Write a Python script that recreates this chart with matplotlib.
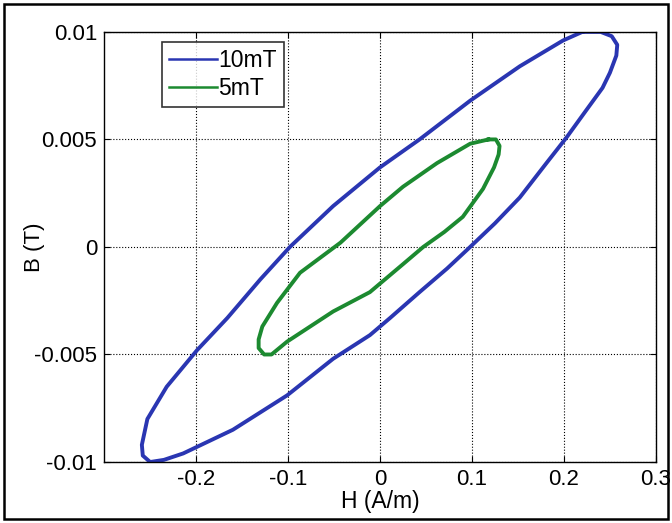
import matplotlib
matplotlib.use("Agg")
import matplotlib.pyplot as plt
from matplotlib.patches import Rectangle

plt.rcParams['font.family'] = ['Liberation Sans', 'DejaVu Sans']

# 10 mT loop, points read around the curve (H in A/m, B in T)
h_10mT = [0.220, 0.240, 0.252, 0.258, 0.257, 0.250, 0.242, 0.225, 0.203, 0.181,
          0.152, 0.125, 0.098, 0.073, 0.043, 0.011, -0.011, -0.051, -0.101,
          -0.160, -0.214, -0.235, -0.250, -0.258, -0.259, -0.253, -0.232,
          -0.199, -0.166, -0.130, -0.098, -0.051, 0.000, 0.043, 0.098, 0.152,
          0.199, 0.220]
b_10mT = [0.0100, 0.0100, 0.0098, 0.0094, 0.0089, 0.0081, 0.0074, 0.0064,
          0.0051, 0.0039, 0.0023, 0.0011, 0.0000, -0.0010, -0.0021, -0.0033,
          -0.0041, -0.0052, -0.0069, -0.0085, -0.0096, -0.0099, -0.0100,
          -0.0097, -0.0092, -0.0080, -0.0065, -0.0048, -0.0033, -0.0015,
          0.0000, 0.0019, 0.0037, 0.0050, 0.0068, 0.0084, 0.0096, 0.0100]

# 5 mT loop
h_5mT = [0.118, 0.126, 0.130, 0.129, 0.124, 0.112, 0.090, 0.070, 0.047, 0.025,
         -0.011, -0.051, -0.101, -0.118, -0.126, -0.132, -0.132, -0.128,
         -0.112, -0.087, -0.043, 0.000, 0.025, 0.062, 0.098, 0.118]
b_5mT = [0.0050, 0.0050, 0.0047, 0.0043, 0.0037, 0.0027, 0.0014, 0.0007,
         0.0000, -0.0008, -0.0021, -0.0030, -0.0044, -0.0050, -0.0050,
         -0.0047, -0.0043, -0.0037, -0.0026, -0.0012, 0.0002, 0.0019,
         0.0028, 0.0039, 0.0048, 0.0050]

x_ticks = [-0.2, -0.1, 0, 0.1, 0.2, 0.3]
x_tick_labels = ['-0.2', '-0.1', '0', '0.1', '0.2', '0.3']
y_ticks = [-0.01, -0.005, 0, 0.005, 0.01]
y_tick_labels = ['-0.01', '-0.005', '0', '0.005', '0.01']

fig = plt.figure(figsize=(6.72, 5.23), dpi=100)
ax = fig.add_axes([0.155, 0.1166, 0.821, 0.8224])

ax.plot(h_10mT, b_10mT, color='#2a36b2', lw=2.8, label='10mT')
ax.plot(h_5mT, b_5mT, color='#1c8a30', lw=2.8, label='5mT')

ax.set_xlim(-0.3, 0.3)
ax.set_ylim(-0.01, 0.01)
ax.set_xticks(x_ticks)
ax.set_xticklabels(x_tick_labels)
ax.set_yticks(y_ticks)
ax.set_yticklabels(y_tick_labels)
ax.tick_params(direction='in', top=True, right=True, length=4, labelsize=16, pad=5)
ax.grid(True, linestyle=':', color='black', lw=0.8)
for s in ax.spines.values():
    s.set_linewidth(1.0)

ax.set_xlabel('H (A/m)', fontsize=16.5, labelpad=0)
ax.set_ylabel('B (T)', fontsize=16)
ax.yaxis.set_label_coords(-0.107, 0.5)

leg = ax.legend(loc='upper left', bbox_to_anchor=(0.105, 0.977), fontsize=16.5,
                frameon=True, fancybox=False, handlelength=2.1,
                handletextpad=0.05, borderpad=0.3, labelspacing=0.25,
                borderaxespad=0)
leg.get_frame().set_edgecolor('black')
leg.get_frame().set_linewidth(1.2)
for line in leg.get_lines():
    line.set_linewidth(1.8)

# outer frame around the whole figure
fig.patches.append(Rectangle((0.006, 0.008), 0.988, 0.984, transform=fig.transFigure,
                             fill=False, edgecolor='black', lw=1.8))

plt.savefig('out.png', dpi=100)
